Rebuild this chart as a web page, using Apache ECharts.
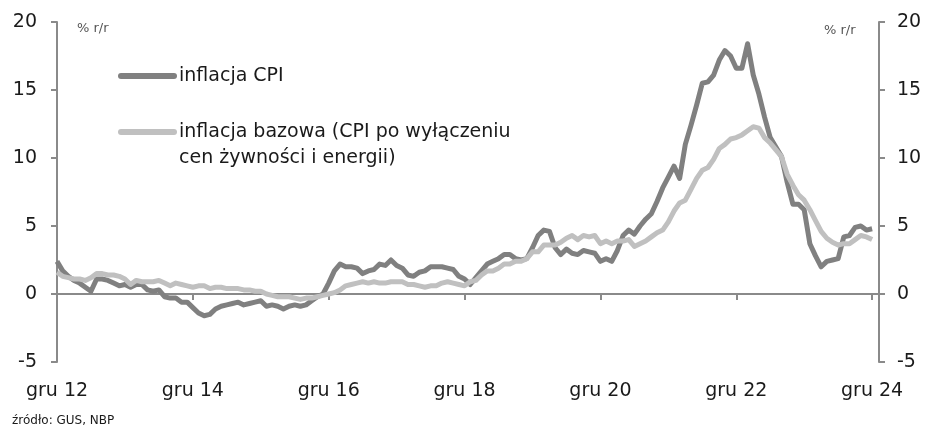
<!DOCTYPE html>
<html>
<head>
<meta charset="utf-8">
<script src="https://cdn.jsdelivr.net/npm/echarts@6/dist/echarts.min.js"></script>
<style>
html,body{margin:0;padding:0;background:#fff;}
#chart{width:928px;height:427px;}
</style>
</head>
<body>
<div id="chart"></div>
<script>
// Monthly data, gru 2012 .. gru 2024
const xLabels = ['gru 12','gru 14','gru 16','gru 18','gru 20','gru 22','gru 24'];
const yTicks = [-5, 0, 5, 10, 15, 20];
const cpiName = 'inflacja CPI';
const coreName = 'inflacja bazowa (CPI po wyłączeniu\ncen żywności i energii)';
const cpi = [
  2.4,
  1.7,1.3,1.0,0.8,0.5,0.2,1.1,1.1,1.0,0.8,0.6,0.7,
  0.5,0.7,0.7,0.3,0.2,0.3,-0.2,-0.3,-0.3,-0.6,-0.6,-1.0,
  -1.4,-1.6,-1.5,-1.1,-0.9,-0.8,-0.7,-0.6,-0.8,-0.7,-0.6,-0.5,
  -0.9,-0.8,-0.9,-1.1,-0.9,-0.8,-0.9,-0.8,-0.5,-0.2,0.0,0.8,
  1.7,2.2,2.0,2.0,1.9,1.5,1.7,1.8,2.2,2.1,2.5,2.1,
  1.9,1.4,1.3,1.6,1.7,2.0,2.0,2.0,1.9,1.8,1.3,1.1,
  0.7,1.2,1.7,2.2,2.4,2.6,2.9,2.9,2.6,2.5,2.6,3.4,
  4.3,4.7,4.6,3.4,2.9,3.3,3.0,2.9,3.2,3.1,3.0,2.4,
  2.6,2.4,3.2,4.3,4.7,4.4,5.0,5.5,5.9,6.8,7.8,8.6,
  9.4,8.5,11.0,12.4,13.9,15.5,15.6,16.1,17.2,17.9,17.5,16.6,
  16.6,18.4,16.1,14.7,13.0,11.5,10.8,10.1,8.2,6.6,6.6,6.2,
  3.7,2.8,2.0,2.4,2.5,2.6,4.2,4.3,4.9,5.0,4.7,4.8
];
const core = [
  1.6,
  1.3,1.2,1.1,1.1,1.0,1.2,1.5,1.5,1.4,1.4,1.3,1.1,
  0.7,1.0,0.9,0.9,0.9,1.0,0.8,0.6,0.8,0.7,0.6,0.5,
  0.6,0.6,0.4,0.5,0.5,0.4,0.4,0.4,0.3,0.3,0.2,0.2,
  0.0,-0.1,-0.2,-0.2,-0.2,-0.3,-0.4,-0.3,-0.3,-0.2,-0.1,0.0,
  0.1,0.3,0.6,0.7,0.8,0.9,0.8,0.9,0.8,0.8,0.9,0.9,
  0.9,0.7,0.7,0.6,0.5,0.6,0.6,0.8,0.9,0.8,0.7,0.6,
  0.9,1.0,1.4,1.7,1.7,1.9,2.2,2.2,2.4,2.4,2.6,3.1,
  3.1,3.6,3.6,3.6,3.8,4.1,4.3,4.0,4.3,4.2,4.3,3.7,
  3.9,3.7,3.9,3.9,4.0,3.5,3.7,3.9,4.2,4.5,4.7,5.3,
  6.1,6.7,6.9,7.7,8.5,9.1,9.3,9.9,10.7,11.0,11.4,11.5,
  11.7,12.0,12.3,12.2,11.5,11.1,10.6,10.1,8.8,8.0,7.3,6.9,
  6.2,5.4,4.6,4.1,3.8,3.6,3.7,3.7,4.0,4.3,4.2,4.0
];

const FONT = 'DejaVu Sans';
const AXIS_COLOR = '#8a8a8a';
const CPI_COLOR = '#808080';
const CORE_COLOR = '#c0c0c0';
const xTickValues = xLabels.map((_, i) => i * 24);

const chart = echarts.init(document.getElementById('chart'), null, {renderer: 'canvas'});
const yAxisCommon = {
  type: 'value', min: yTicks[0], max: yTicks[yTicks.length - 1], interval: 5,
  splitLine: {show: false},
  axisLine: {show: true, onZero: false, lineStyle: {color: AXIS_COLOR, width: 2}},
  axisTick: {show: true, length: 6, lineStyle: {color: AXIS_COLOR, width: 2}},
  axisLabel: {color: '#1a1a1a', fontFamily: FONT, fontSize: 19}
};
chart.setOption({
  animation: false,
  backgroundColor: '#ffffff',
  grid: {left: 57, right: 44, top: 22, bottom: 65},
  xAxis: [
    {
      type: 'value', min: 0, max: 146.1,
      axisLine: {show: true, onZero: true, lineStyle: {color: AXIS_COLOR, width: 2}},
      axisTick: {show: true, length: 6, customValues: xTickValues, lineStyle: {color: AXIS_COLOR, width: 2}},
      axisLabel: {show: false},
      splitLine: {show: false}
    },
    {
      type: 'value', min: 0, max: 146.1, position: 'bottom',
      axisLine: {show: false, onZero: false},
      axisTick: {show: false},
      splitLine: {show: false},
      axisLabel: {
        show: true, margin: 20, customValues: xTickValues,
        color: '#1a1a1a', fontFamily: FONT, fontSize: 19,
        formatter: v => xLabels[Math.round(v / 24)] || ''
      }
    }
  ],
  yAxis: [
    Object.assign({}, yAxisCommon, {position: 'left', axisLabel: Object.assign({}, yAxisCommon.axisLabel, {margin: 20})}),
    Object.assign({}, yAxisCommon, {position: 'right', offset: -5, axisLabel: Object.assign({}, yAxisCommon.axisLabel, {margin: 18})})
  ],
  series: [
    {
      name: cpiName, type: 'line', xAxisIndex: 0, yAxisIndex: 0,
      data: cpi.map((v, i) => [i, v]), showSymbol: false, symbol: 'none',
      lineStyle: {color: CPI_COLOR, width: 5, join: 'round'}, itemStyle: {color: CPI_COLOR}
    },
    {
      name: coreName, type: 'line', xAxisIndex: 0, yAxisIndex: 0,
      data: core.map((v, i) => [i, v]), showSymbol: false, symbol: 'none',
      lineStyle: {color: CORE_COLOR, width: 5, join: 'round'}, itemStyle: {color: CORE_COLOR}
    }
  ],
  graphic: [
    {type: 'line', shape: {x1: 121, y1: 76, x2: 174, y2: 76}, style: {stroke: CPI_COLOR, lineWidth: 6, lineCap: 'round'}},
    {type: 'text', x: 179, y: 76, style: {text: cpiName, fill: '#1a1a1a', font: '19px "' + FONT + '"', verticalAlign: 'middle'}},
    {type: 'line', shape: {x1: 121, y1: 132, x2: 174, y2: 132}, style: {stroke: CORE_COLOR, lineWidth: 6, lineCap: 'round'}},
    {type: 'text', x: 179, y: 119, style: {text: coreName, fill: '#1a1a1a', font: '19px "' + FONT + '"', verticalAlign: 'top', lineHeight: 26}},
    {type: 'text', x: 77, y: 29, style: {text: '% r/r', fill: '#555555', font: '13px "' + FONT + '"', verticalAlign: 'middle'}},
    {type: 'text', x: 824, y: 31, style: {text: '% r/r', fill: '#555555', font: '13px "' + FONT + '"', verticalAlign: 'middle'}},
    {type: 'text', x: 12, y: 421, style: {text: 'źródło: GUS, NBP', fill: '#1a1a1a', font: '12px "' + FONT + '"', verticalAlign: 'middle'}}
  ]
});
</script>
</body>
</html>
